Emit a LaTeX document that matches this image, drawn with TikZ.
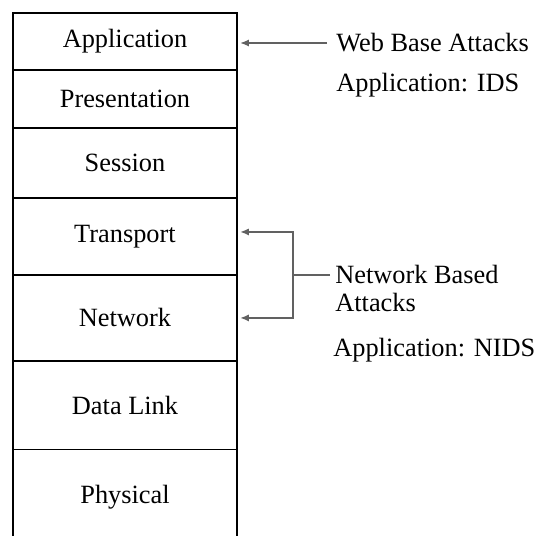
\documentclass[tikz,border=0pt]{standalone}
\usepackage{fontspec}
\setmainfont{Liberation Serif}
\usetikzlibrary{positioning, arrows.meta}

\begin{document}
\begin{tikzpicture}[x=0.02cm, y=-0.02cm,
    layer/.style={draw, line width=0.65pt, rectangle, minimum width=4.48cm, inner sep=0pt, outer sep=0pt, font=\fontsize{15}{16}\selectfont},
    note/.style={anchor=west, inner sep=0pt, align=left, font=\fontsize{15}{16}\selectfont},
    arr/.style={-{Latex[length=5pt, width=4pt]}, line width=1.2pt, draw=black!62}]
    \useasboundingbox (0, 0) rectangle (548, 535);
    \clip (0, 0) rectangle (548, 535);

    % the seven layers
    \node (app) [layer, minimum height=1.14cm] at (125, 41.5) {Application};
    \node (pres) [layer, minimum height=1.16cm, below=0pt of app] {Presentation};
    \node (ses) [layer, minimum height=1.40cm, below=0pt of pres] {Session};
    \node (trn) [layer, minimum height=1.54cm, below=0pt of ses] {Transport};
    \node (nw) [layer, minimum height=1.72cm, below=0pt of trn] {Network};
    \node (dl) [layer, minimum height=1.78cm, below=0pt of nw] {Data Link};
    \node (phy) [layer, minimum height=1.90cm, below=0pt of dl] {Physical};

    % attack notes
    \node (web) [note] at (336, 43) {Web Base Attacks};
    \node (ids) [note] at (336, 85) {Application: IDS};
    \node (nba) [note, anchor=north west] at (335, 265) {Network Based\\Attacks};
    \node (nids) [note] at (333, 350) {Application: NIDS};
    \coordinate (jn) at (293, 275);

    \draw [arr, shorten <=0.18cm, shorten >=0.06cm] (web.west) -- (web.west -| app.east);
    \draw [line width=1.2pt, draw=black!62, shorten <=0.1cm] (nba.west |- jn) -- (jn);
    \draw [arr, shorten >=0.06cm] (jn) |- ([yshift=0.09cm]trn.east);
    \draw [arr, shorten >=0.06cm] (jn) |- (nw.east);
\end{tikzpicture}
\end{document}
